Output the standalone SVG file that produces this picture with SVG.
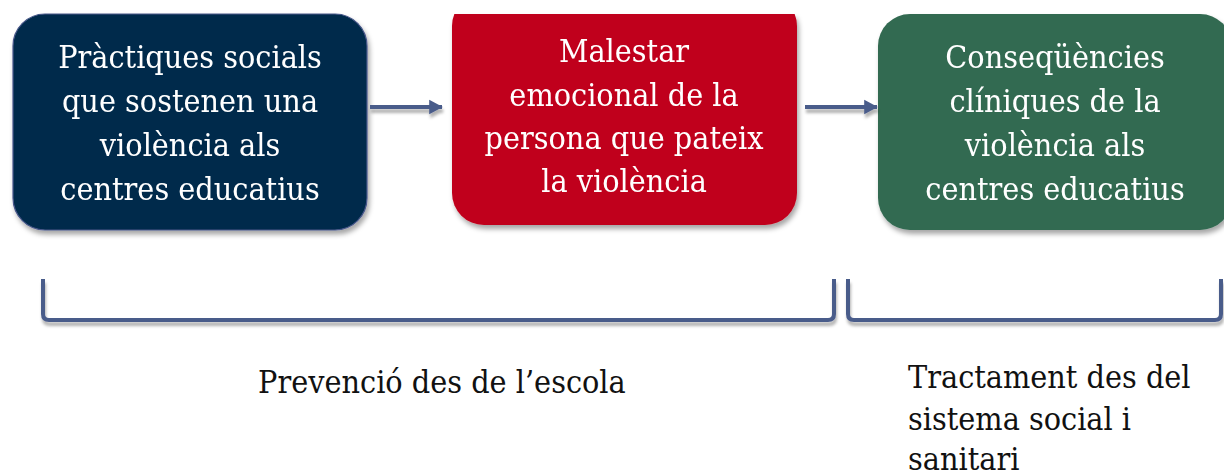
<svg xmlns="http://www.w3.org/2000/svg" width="1224" height="476" viewBox="0 0 1224 476">
<defs>
<filter id="sh" x="-10%" y="-10%" width="130%" height="140%">
<feDropShadow dx="2" dy="4" stdDeviation="2.5" flood-color="#000" flood-opacity="0.35"/>
</filter>
<filter id="lsh" x="-5%" y="-50%" width="110%" height="300%">
<feDropShadow dx="1" dy="4" stdDeviation="1.5" flood-color="#000" flood-opacity="0.3"/>
</filter>
<clipPath id="top"><rect x="0" y="14" width="1224" height="462"/></clipPath>
<marker id="ah" markerWidth="4" markerHeight="4" refX="3.2" refY="2" orient="auto" markerUnits="strokeWidth">
<path d="M0,0.2 L3.4,2 L0,3.8 Z" fill="#4A5B8A"/>
</marker>
</defs>
<style>
.t{font-family:"DejaVu Serif Condensed","DejaVu Serif","Liberation Serif",serif;font-size:32px;text-anchor:middle;fill:#fff}
.b{font-family:"DejaVu Serif Condensed","DejaVu Serif","Liberation Serif",serif;font-size:32px;fill:#111}
.c{fill:none;stroke:#4A5B8A;stroke-width:4;}
</style>
<g id="node1" filter="url(#sh)">
<rect x="13" y="14" width="354" height="216" rx="32" fill="#022B4C" stroke="#48578A" stroke-width="1.2"/>
<text class="t"><tspan x="190" y="68">Pràctiques socials</tspan><tspan x="190" y="112">que sostenen una</tspan><tspan x="190" y="156">violència als</tspan><tspan x="190" y="200">centres educatius</tspan></text>
</g>
<g id="node2" filter="url(#sh)">
<g clip-path="url(#top)"><rect x="452" y="-6" width="345" height="231" rx="32" fill="#C0001B"/></g>
<text class="t"><tspan x="624" y="62">Malestar</tspan><tspan x="624" y="106">emocional de la</tspan><tspan x="624" y="149">persona que pateix</tspan><tspan x="624" y="192">la violència</tspan></text>
</g>
<g id="node3" filter="url(#sh)">
<rect x="878" y="14" width="354" height="216" rx="32" fill="#336A51"/>
<text class="t"><tspan x="1055" y="68">Conseqüències</tspan><tspan x="1055" y="112">clíniques de la</tspan><tspan x="1055" y="156">violència als</tspan><tspan x="1055" y="200">centres educatius</tspan></text>
</g>
<g id="connectors" filter="url(#lsh)">
<line class="c" x1="370" y1="107" x2="442" y2="107" marker-end="url(#ah)"/>
<line class="c" x1="805" y1="107" x2="877" y2="107" marker-end="url(#ah)"/>
<path class="c" d="M43,279 V314 Q43,320 49,320 H828 Q834,320 834,314 V279"/>
<path class="c" d="M848,279 V314 Q848,320 854,320 H1215 Q1221,320 1221,314 V279"/>
</g>
<g id="labels">
<text class="b" x="258" y="393">Prevenció des de l’escola</text>
<text class="b"><tspan x="908" y="388">Tractament des del</tspan><tspan x="908" y="430">sistema social i</tspan><tspan x="908" y="470">sanitari</tspan></text>
</g>
</svg>
